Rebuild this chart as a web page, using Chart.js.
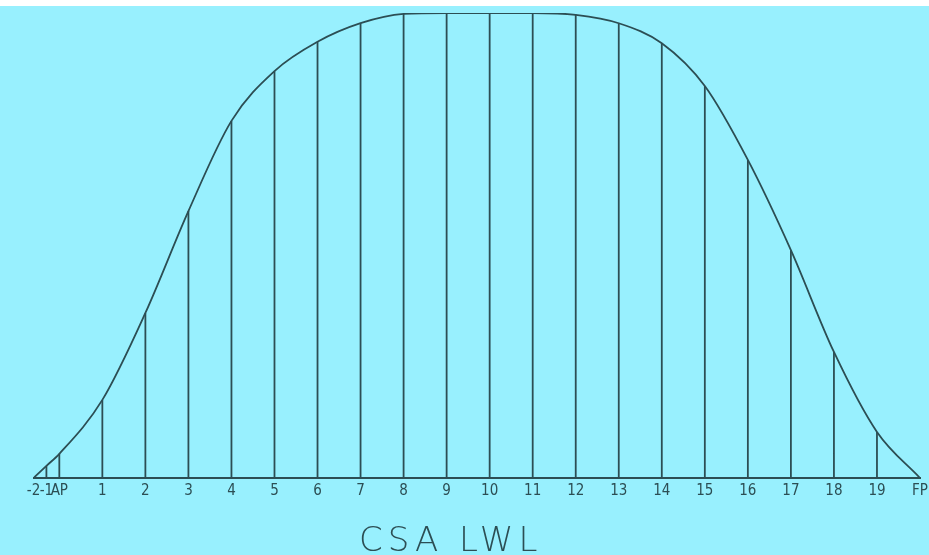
<!DOCTYPE html>
<html>
<head>
<meta charset="utf-8">
<script src="https://cdn.jsdelivr.net/npm/chart.js@4.4.1/dist/chart.umd.min.js"></script>
<style>
  html, body { margin: 0; padding: 0; background: #ffffff; }
  #wrap { position: absolute; left: 0; top: 6px; width: 929px; height: 549px; background: #98f0fe; }
  #caption {
    position: absolute; left: 359px; top: 522px;
    font-family: 'DejaVu Sans', sans-serif; font-weight: 200; font-size: 34px;
    line-height: 34px; letter-spacing: 5px; color: #2c4e54; white-space: nowrap;
  }
</style>
</head>
<body>
<div id="wrap"><canvas id="csa"></canvas></div>
<div id="caption">CSA LWL</div>
<script>
// stations along the waterline (AP = 0, FP = 20)
const stationLabels = ['-2', '-1', 'AP', '1', '2', '3', '4', '5', '6', '7', '8', '9', '10',
  '11', '12', '13', '14', '15', '16', '17', '18', '19', 'FP'];
const stationPos = [-0.6, -0.3, 0, 1, 2, 3, 4, 5, 6, 7, 8, 9, 10,
  11, 12, 13, 14, 15, 16, 17, 18, 19, 20];
// sectional area, percent of maximum section
const sectionArea = [0, 2.6, 5.2, 16.8, 35.5, 57.4, 76.8, 87.5, 93.8, 97.8, 99.8, 100, 100,
  100, 99.6, 97.8, 93.5, 84.3, 68.4, 49.0, 27.1, 9.9, 0];

const ink = '#2c4e54';

const curve = stationPos.map((x, i) => ({ x: x, y: sectionArea[i] }));

// one vertical ordinate per station, broken apart with empty points
const ordinates = [];
stationPos.forEach((x, i) => {
  ordinates.push({ x: x, y: 0 }, { x: x, y: sectionArea[i] }, { x: x, y: null });
});

new Chart(document.getElementById('csa'), {
  type: 'line',
  data: {
    datasets: [
      {
        data: curve,
        borderColor: ink,
        borderWidth: 1.8,
        pointRadius: 0,
        cubicInterpolationMode: 'monotone',
        fill: false
      },
      {
        data: ordinates,
        borderColor: ink,
        borderWidth: 1.8,
        pointRadius: 0,
        spanGaps: false,
        tension: 0,
        fill: false
      }
    ]
  },
  options: {
    responsive: true,
    maintainAspectRatio: false,
    animation: false,
    layout: { padding: { left: 33.5, right: 9, top: 7, bottom: 49 } },
    plugins: {
      legend: { display: false },
      tooltip: { enabled: false },
      title: { display: false }
    },
    scales: {
      x: {
        type: 'linear',
        min: -0.6,
        max: 20,
        afterBuildTicks: (scale) => {
          scale.ticks = stationPos.map(v => ({ value: v }));
        },
        afterFit: (scale) => {
          scale.height = 28;
          scale.paddingLeft = 0;
          scale.paddingRight = 0;
        },
        grid: { display: false, drawTicks: false },
        border: { display: true, color: ink, width: 2 },
        ticks: {
          autoSkip: false,
          maxRotation: 0,
          padding: 4,
          color: ink,
          font: { family: "'Liberation Sans Narrow', 'DejaVu Sans Condensed', sans-serif", size: 15 },
          callback: (value, index) => stationLabels[index]
        }
      },
      y: {
        display: false,
        min: 0,
        max: 100
      }
    }
  }
});
</script>
</body>
</html>
